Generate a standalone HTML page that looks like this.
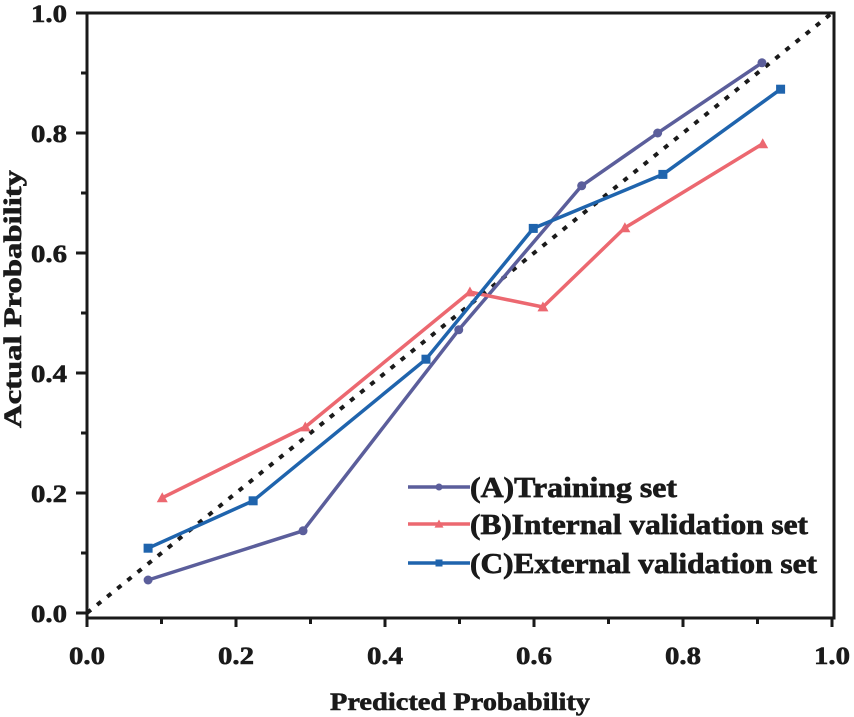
<!DOCTYPE html>
<html><head><meta charset="utf-8"><style>
html,body{margin:0;padding:0;background:#fff;}
svg{display:block;font-family:"Liberation Serif",serif;font-weight:bold;}
</style></head><body>
<svg id="chart" width="854" height="717" viewBox="0 0 854 717"></svg>
<script>
const xTicks=[0,0.2,0.4,0.6,0.8,1.0];
const yTicks=[0,0.2,0.4,0.6,0.8,1.0];
const tickLabels=["0.0","0.2","0.4","0.6","0.8","1.0"];
const trainX=[0.082,0.290,0.499,0.664,0.766,0.906];
const trainY=[0.055,0.137,0.472,0.712,0.800,0.917];
const internalX=[0.101,0.293,0.514,0.612,0.722,0.907];
const internalY=[0.192,0.310,0.535,0.510,0.642,0.782];
const externalX=[0.082,0.223,0.455,0.599,0.773,0.931];
const externalY=[0.108,0.187,0.423,0.641,0.731,0.873];

const NS="http://www.w3.org/2000/svg";
const svg=document.getElementById('chart');
const X0=87,X1=832,Y0=613,Y1=13;
function sx(v){return X0+(X1-X0)*v;}
function sy(v){return Y0-(Y0-Y1)*v;}
function mk(tag,attrs,parent){const e=document.createElementNS(NS,tag);for(const k in attrs)e.setAttribute(k,attrs[k]);(parent||svg).appendChild(e);return e;}

const frame=mk('rect',{x:X0,y:Y1,width:X1-X0+2,height:618-Y1,fill:'none',stroke:'#1a1a1a','stroke-width':3});



xTicks.forEach((t,i)=>{
  const g=mk('g',{});
  
  
  mk('line',{x1:sx(t),x2:sx(t),y1:618,y2:627,stroke:'#1a1a1a','stroke-width':3},g);
  const tx=mk('text',{x:sx(t),y:664,'text-anchor':'middle','font-size':25,fill:'#1a1a1a',textLength:36,lengthAdjust:'spacingAndGlyphs',stroke:'#1a1a1a','stroke-width':0.6},g);
  tx.textContent=tickLabels[i];
  if(i<xTicks.length-1){mk('line',{x1:sx(t+0.1),x2:sx(t+0.1),y1:618,y2:624,stroke:'#1a1a1a','stroke-width':3},g);}
});
yTicks.forEach((t,i)=>{
  const g=mk('g',{});
  
  
  mk('line',{x1:76,x2:X0,y1:sy(t),y2:sy(t),stroke:'#1a1a1a','stroke-width':3},g);
  const tx=mk('text',{x:67,y:sy(t)+9,'text-anchor':'end','font-size':25,fill:'#1a1a1a',textLength:36,lengthAdjust:'spacingAndGlyphs',stroke:'#1a1a1a','stroke-width':0.6},g);
  tx.textContent=tickLabels[i];
  if(i<yTicks.length-1){mk('line',{x1:81,x2:X0,y1:sy(t+0.1),y2:sy(t+0.1),stroke:'#1a1a1a','stroke-width':3},g);}
});

const xt=mk('text',{x:460,y:710,'text-anchor':'middle','font-size':25,fill:'#1a1a1a',textLength:260,lengthAdjust:'spacingAndGlyphs',stroke:'#1a1a1a','stroke-width':0.6});
xt.textContent='Predicted Probability';


const yt=mk('text',{x:0,y:0,'text-anchor':'middle','font-size':25,fill:'#1a1a1a',transform:'translate(21,299) rotate(-90)',textLength:258,lengthAdjust:'spacingAndGlyphs',stroke:'#1a1a1a','stroke-width':0.6});
yt.textContent='Actual Probability';



const diag=mk('line',{x1:sx(0),y1:sy(0),x2:sx(1),y2:sy(1),stroke:'#1a1a1a','stroke-width':4,'stroke-dasharray':'5 8'});



function marker(type,x,y,color,g,s){
  if(type==='circle')mk('circle',{cx:x,cy:y,r:s||4.5,fill:color},g);
  else if(type==='square'){const h=s||4.5;mk('rect',{x:x-h,y:y-h,width:2*h,height:2*h,fill:color},g);}
  else {const h=s||5.5;mk('polygon',{points:`${x-h},${y+h*0.8} ${x+h},${y+h*0.8} ${x},${y-h}`,fill:color},g);}
}
function series(name,xs,ys,color,type){
  const g=mk('g',{});
  
  
  const pts=xs.map((v,i)=>sx(v)+','+sy(ys[i])).join(' ');
  mk('polyline',{points:pts,fill:'none',stroke:color,'stroke-width':3.5,'stroke-linejoin':'round'},g);
  xs.forEach((v,i)=>marker(type,sx(v),sy(ys[i]),color,g));
}
series('training-series',trainX,trainY,'#5b5e9b','circle');
series('internal-validation-series',internalX,internalY,'#ec6870','triangle');
series('external-validation-series',externalX,externalY,'#1f64ad','square');

const legend=[['(A)Training set','#5b5e9b','circle',487,207],['(B)Internal validation set','#ec6870','triangle',524,338],['(C)External validation set','#1f64ad','square',563,347]];
legend.forEach((l,i)=>{
  const g=mk('g',{});
  
  
  mk('line',{x1:408,x2:470,y1:l[3],y2:l[3],stroke:l[1],'stroke-width':3.5},g);
  marker(l[2],439,l[3],l[1],g,l[2]==='triangle'?4.5:3.5);
  const t=mk('text',{x:470,y:l[3]+10,'font-size':28,fill:'#1a1a1a',textLength:l[4],lengthAdjust:'spacingAndGlyphs',stroke:'#1a1a1a','stroke-width':0.7},g);
  t.textContent=l[0];
});
</script>
</body></html>
